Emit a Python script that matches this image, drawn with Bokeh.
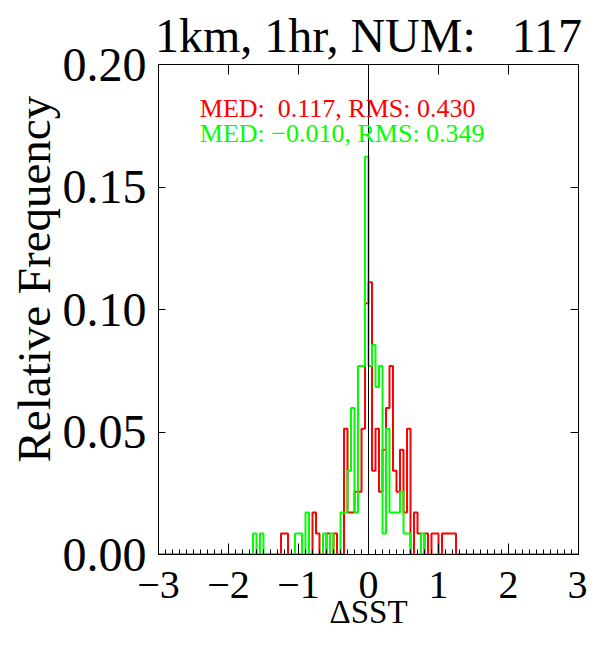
import numpy as np
from bokeh.plotting import figure
from bokeh.models import Range1d, LinearAxis, FixedTicker, SingleIntervalTicker, PrintfTickFormatter, Span, Label, Title
from bokeh.embed import file_html
from bokeh.resources import INLINE

# ---------------- data ----------------
NUM = 117
BIN_WIDTH = 0.05
X_MIN, X_MAX = -3.0, 3.0
title_text = "1km, 1hr, NUM:\u00a0\u00a0 117"
red_label = "MED:\u00a0 0.117, RMS: 0.430"
green_label = "MED: \u22120.010, RMS: 0.349"
x_title = "\u0394SST"
y_title = "Relative Frequency"

# bin index k covers [k*0.05, (k+1)*0.05]
red_bins = [-25, -24, -16, -15, -12, -10, -7, -6, -5, -4, -3, -2, -1, 0, 1, 2, 3, 4, 5, 6, 7, 8, 9, 10, 11, 13, 14, 16, 18, 19, 21, 22, 23, 24]
red_counts = [1, 1, 2, 1, 1, 1, 6, 2, 2, 3, 3, 6, 12, 13, 4, 6, 3, 5, 7, 9, 4, 3, 5, 2, 6, 2, 1, 1, 1, 1, 1, 1, 1, 1]

green_bins = [-33, -31, -21, -20, -18, -13, -11, -8, -7, -6, -5, -4, -3, -2, -1, 0, 1, 2, 3, 4, 5, 6, 7, 8, 9, 10, 11, 15]
green_counts = [1, 1, 1, 1, 2, 1, 1, 2, 2, 4, 7, 2, 9, 9, 19, 9, 10, 8, 9, 1, 6, 2, 2, 2, 3, 1, 1, 1]

x_ticks = [-3, -2, -1, 0, 1, 2, 3]
x_tick_labels = ["\u22123", "\u22122", "\u22121", "0", "1", "2", "3"]
y_ticks = [0.0, 0.05, 0.10, 0.15, 0.20]

# ---------------- derived ----------------
edges = np.linspace(X_MIN, X_MAX, int(round((X_MAX - X_MIN) / BIN_WIDTH)) + 1)
nb = len(edges) - 1
offset = int(round(-X_MIN / BIN_WIDTH))


def step_path(bins, counts):
    c = np.zeros(nb)
    for k, n in zip(bins, counts):
        c[k + offset] = n
    f = c / NUM
    xs = np.repeat(edges, 2)[1:-1]
    ys = np.repeat(f, 2)
    return xs, ys


FONT = "Liberation Serif"
W, H = 587, 632

p = figure(width=W, height=H, x_range=Range1d(X_MIN, X_MAX), y_range=Range1d(0, 0.2),
           output_backend="svg", toolbar_location=None,
           min_border_left=158, min_border_right=W - 578, min_border_top=64, min_border_bottom=H - 554)
p.grid.visible = False
p.outline_line_color = "black"
p.background_fill_color = "white"
p.border_fill_color = "white"

# bottom axis
xa = p.xaxis[0]
xa.ticker = SingleIntervalTicker(interval=1, num_minor_ticks=10)
xa.major_label_overrides = {t: l for t, l in zip(x_ticks, x_tick_labels)}
xa.major_tick_in = 11
xa.major_tick_out = 0
xa.minor_tick_in = 5
xa.minor_tick_out = 0
xa.major_label_standoff = 17
xa.major_label_text_font = FONT
xa.major_label_text_font_size = "40px"
xa.major_label_text_color = "black"
xa.axis_line_color = "black"
xa.axis_label = x_title
xa.axis_label_text_font = FONT
xa.axis_label_text_font_size = "33px"
xa.axis_label_text_font_style = "normal"
xa.axis_label_text_color = "black"
xa.axis_label_standoff = -7

# left axis
ya = p.yaxis[0]
ya.ticker = FixedTicker(ticks=y_ticks)
ya.formatter = PrintfTickFormatter(format="%.2f")
ya.major_tick_in = 7
ya.major_tick_out = 0
ya.minor_tick_line_color = None
ya.major_label_standoff = 12
ya.major_label_text_font = FONT
ya.major_label_text_font_size = "48px"
ya.major_label_text_color = "black"
ya.axis_line_color = "black"

p.add_layout(Title(text=y_title, align="left", text_font=FONT, text_font_size="47px",
                   text_font_style="normal", text_color="black", standoff=-1, offset=92), "left")

# top axis
ta = LinearAxis(ticker=SingleIntervalTicker(interval=1, num_minor_ticks=0),
                major_tick_in=10, major_tick_out=0, minor_tick_line_color=None,
                major_label_text_font_size="1px", major_label_text_color=None,
                major_label_standoff=0, axis_line_color="black")
p.add_layout(ta, "above")
# right axis
ra = LinearAxis(ticker=FixedTicker(ticks=y_ticks), major_tick_in=8, major_tick_out=0,
                minor_tick_line_color=None, major_label_text_font_size="1px",
                major_label_text_color=None, major_label_standoff=0, axis_line_color="black")
p.add_layout(ra, "right")

p.add_layout(Title(text=title_text, align="center", text_font=FONT, text_font_size="48px",
                   text_font_style="normal", text_color="black", standoff=5), "above")

# histograms
rx, ry = step_path(red_bins, red_counts)
gx, gy = step_path(green_bins, green_counts)
p.line(rx, ry, line_color="#ff0000", line_width=2)
p.line(gx, gy, line_color="#00ff00", line_width=2)

p.add_layout(Span(location=0, dimension="height", line_color="black", line_width=1))

# annotations
p.add_layout(Label(x=-2.41, y=0.1821, text=red_label, text_color="#ff0000",
                   text_font=FONT, text_font_size="26px", text_baseline="alphabetic"))
p.add_layout(Label(x=-2.41, y=0.1719, text=green_label, text_color="#00ff00",
                   text_font=FONT, text_font_size="26px", text_baseline="alphabetic"))

open("out.html", "w").write(file_html(p, INLINE))
